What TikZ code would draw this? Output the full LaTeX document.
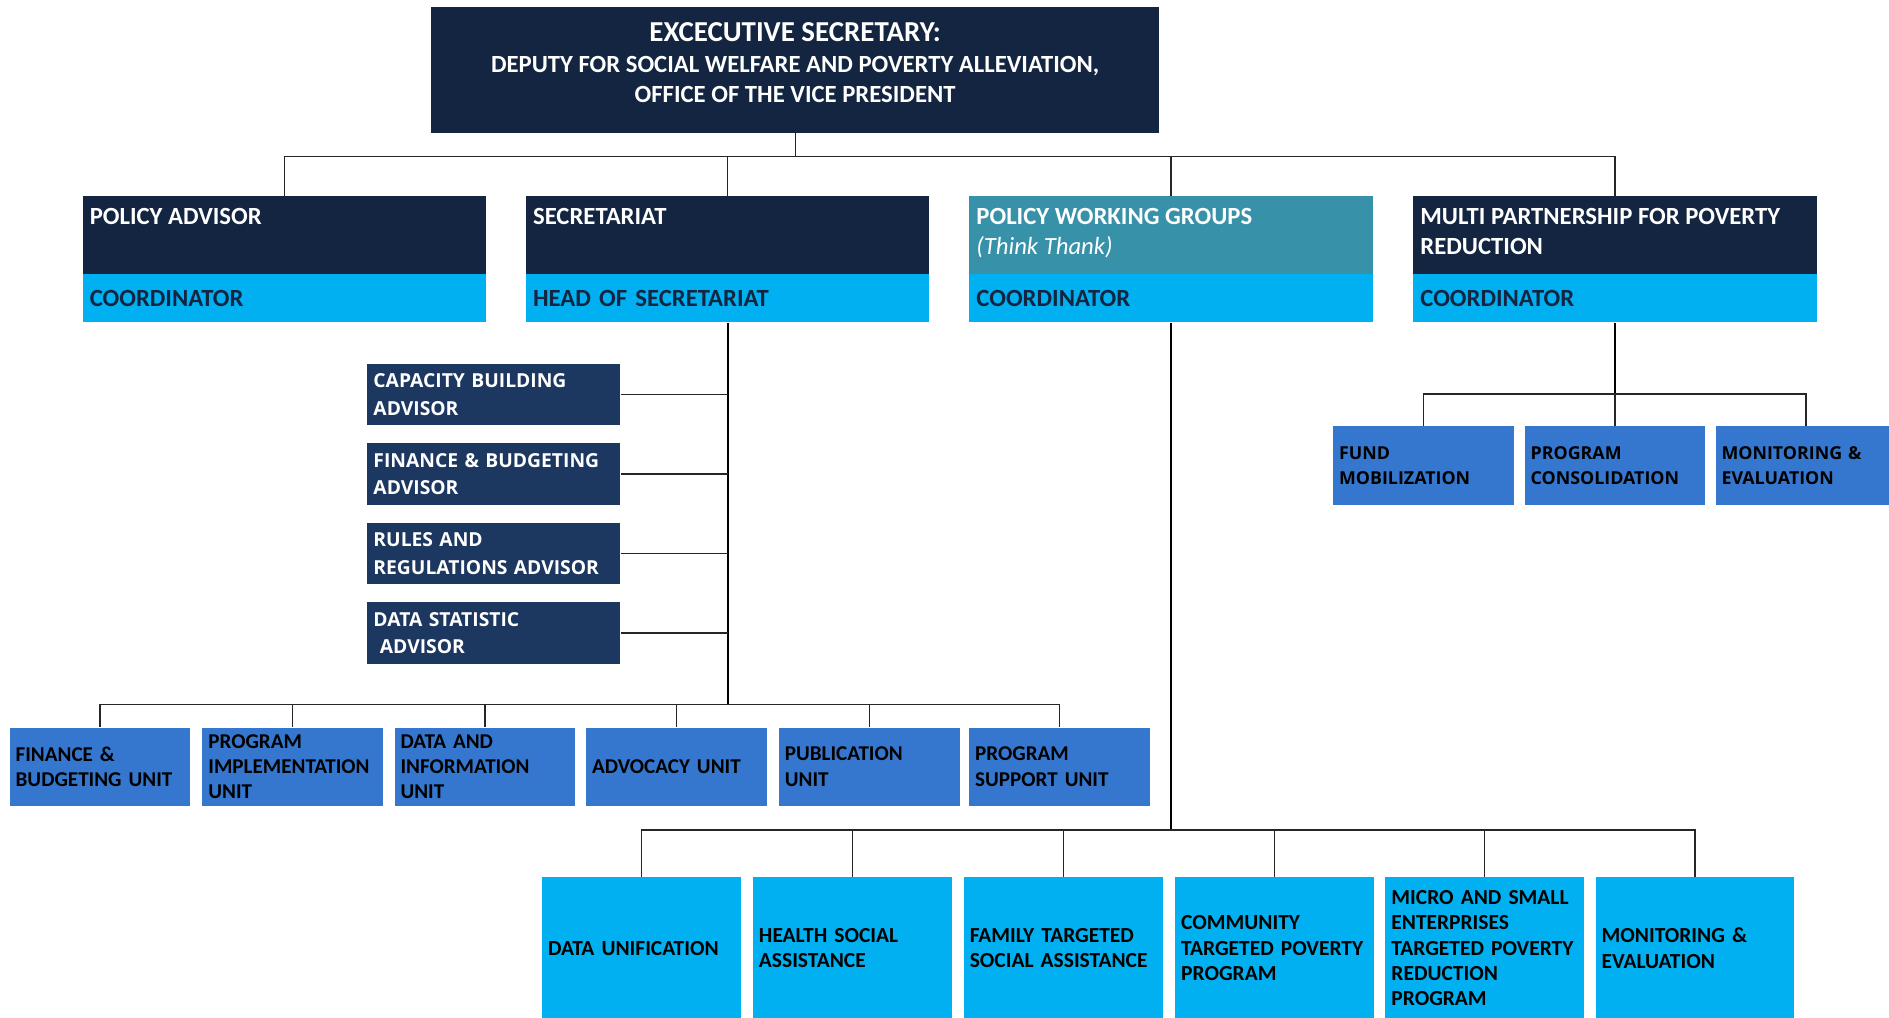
\documentclass[tikz,border=0pt]{standalone}
\usepackage{fontspec}
\setmainfont{Carlito}
\newfontfamily\opensans{Open Sans}
\definecolor{navy}{HTML}{132541}
\definecolor{advblue}{HTML}{1C3760}
\definecolor{pwgteal}{HTML}{3791A8}
\definecolor{skyblue}{HTML}{00B0F0}
\definecolor{unitblue}{HTML}{3577CE}

\begin{document}
\begin{tikzpicture}[x=1pt,y=-1pt,
        every node/.style={inner sep=0pt},
        execbox/.style={fill=navy,minimum width=604pt,minimum height=104pt},
        exectext/.style={text=white,align=center,font=\bfseries\fontsize{20.5}{25}\selectfont},
        headbox/.style={fill=navy,minimum width=335pt,minimum height=65pt},
        headtext/.style={anchor=north west,text=white,align=left,inner xsep=6pt,inner ysep=10pt,
            font=\bfseries\fontsize{20.5}{25}\selectfont},
        coordbox/.style={fill=skyblue,minimum width=335pt,minimum height=40pt,text width=323pt,align=left,
            text=navy,font=\bfseries\fontsize{20.5}{25}\selectfont},
        advbox/.style={fill=advblue,minimum width=210pt,minimum height=51pt,text width=200pt,align=left,
            text=white,font=\opensans\bfseries\fontsize{16}{23}\selectfont},
        unitbox/.style={fill=unitblue,minimum width=150pt,minimum height=65pt,text width=140pt,align=left,
            font=\bfseries\fontsize{17.5}{21}\selectfont},
        mpbox/.style={fill=unitblue,minimum width=150pt,minimum height=65pt,text width=140pt,align=left,
            font=\opensans\bfseries\fontsize{14.8}{21}\selectfont},
        progbox/.style={fill=skyblue,minimum width=165pt,minimum height=118pt,text width=155pt,align=left,
            font=\bfseries\fontsize{17.8}{21}\selectfont},
        link/.style={draw=black!85,line width=1pt},
        trunk/.style={draw=black,line width=1.6pt}]

    \useasboundingbox (0,0) rectangle (1568,845);
    \clip (0,0) rectangle (1568,845);

    % top
    \node[execbox,label={[exectext,yshift=6pt]center:{\fontsize{24}{26}\selectfont EXCECUTIVE SECRETARY:\\
        DEPUTY FOR SOCIAL WELFARE AND POVERTY ALLEVIATION,\\ OFFICE OF THE VICE PRESIDENT}}] (exec) at (660,58) {};

    % second row
    \node[headbox,label={[headtext]north west:POLICY ADVISOR}] (pa) at (236,195.5) {};
    \node[headbox,label={[headtext]north west:SECRETARIAT}] (sec) at (604,195.5) {};
    \node[headbox,fill=pwgteal,label={[headtext]north west:{POLICY WORKING GROUPS\\ \mdseries\itshape (Think Thank)}}] (pwg) at (972,195.5) {};
    \node[headbox,label={[headtext]north west:{MULTI PARTNERSHIP FOR POVERTY\\ REDUCTION}}] (mppr) at (1340.5,195.5) {};
    \node[coordbox] (pa-c) at (236,247.5) {COORDINATOR};
    \node[coordbox] (sec-c) at (604,247.5) {HEAD OF SECRETARIAT};
    \node[coordbox] (pwg-c) at (972,247.5) {COORDINATOR};
    \node[coordbox] (mppr-c) at (1340.5,247.5) {COORDINATOR};

    \coordinate (topbus) at (660,130);
    \draw[link] (exec.south) -- (topbus);
    \foreach \n in {pa,sec,pwg,mppr}
        \draw[link] (topbus) -| (\n.north);

    % secretariat
    \coordinate (secbus) at (604,585);
    \draw[trunk] (sec-c.south) -- (secbus);
    \foreach \y/\t [count=\i] in {327.5/{CAPACITY BUILDING\\ADVISOR},393.5/{FINANCE \& BUDGETING\\ADVISOR},
            459.5/{RULES AND\\REGULATIONS ADVISOR},525.5/{DATA STATISTIC\\\ ADVISOR}} {
        \node[advbox] (adv\i) at (410,\y) {\t};
        \draw[link] (adv\i.east) -- (adv\i.east -| secbus);
    }
    \foreach \x/\t [count=\i] in {83/{FINANCE \&\\BUDGETING UNIT},243/{PROGRAM\\IMPLEMENTATION\\UNIT},
            402.5/{DATA AND\\INFORMATION\\UNIT},561.5/{ADVOCACY UNIT},721.5/{PUBLICATION\\UNIT},879.5/{PROGRAM\\SUPPORT UNIT}} {
        \node[unitbox] (unit\i) at (\x,636.5) {\t};
        \draw[link] (secbus) -| (unit\i.north);
    }

    % policy working groups
    \coordinate (pwgbus) at (972,689);
    \draw[trunk] (pwg-c.south) -- (pwgbus);
    \foreach \x/\t [count=\i] in {532.5/{DATA UNIFICATION},707.5/{HEALTH SOCIAL\\ASSISTANCE},
            882.5/{FAMILY TARGETED\\SOCIAL ASSISTANCE},1058/{COMMUNITY\\TARGETED POVERTY\\PROGRAM},
            1232.5/{MICRO AND SMALL\\ENTERPRISES\\TARGETED POVERTY\\REDUCTION\\PROGRAM},1407/{MONITORING \&\\EVALUATION}} {
        \node[progbox] (prog\i) at (\x,787) {\t};
        \draw[link] (pwgbus) -| (prog\i.north);
    }

    % multi partnership
    \coordinate (mpbus) at (1340.5,327);
    \draw[trunk] (mppr-c.south) -- (mpbus);
    \foreach \x/\t [count=\i] in {1181.5/{FUND\\MOBILIZATION},1340.5/{PROGRAM\\CONSOLIDATION},1499/{MONITORING \&\\EVALUATION}} {
        \node[mpbox] (mp\i) at (\x,386.5) {\t};
        \draw[link] (mpbus) -| (mp\i.north);
    }
\end{tikzpicture}
\end{document}
